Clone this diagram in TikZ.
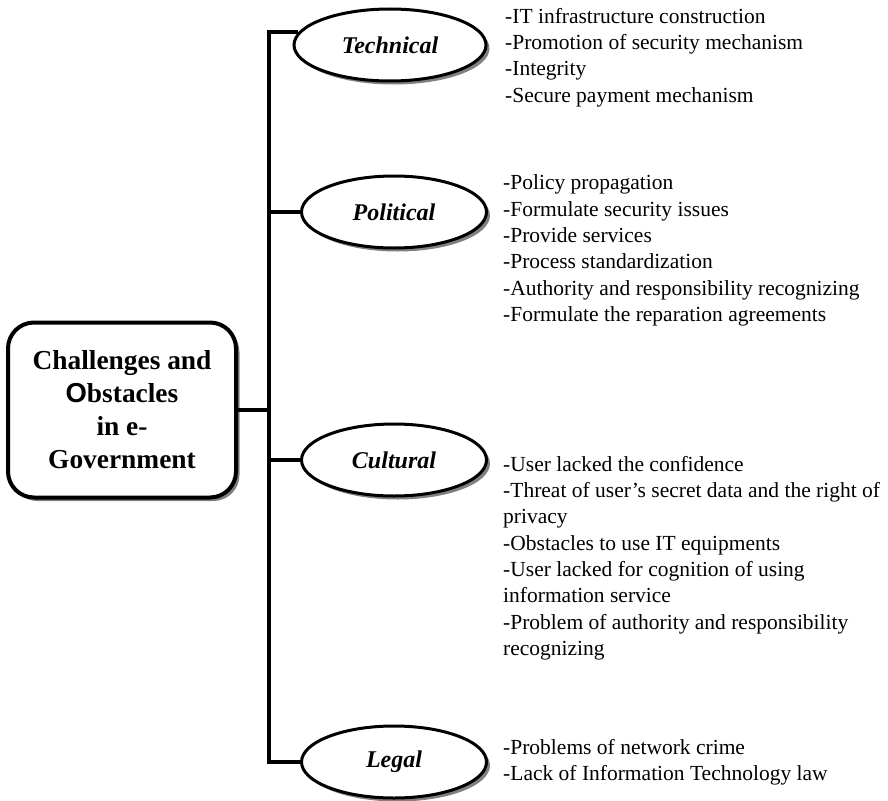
\documentclass[tikz,border=0pt]{standalone}
\usepackage{fontspec}
\setmainfont{Liberation Serif}
\newfontfamily\sansbf{Liberation Sans}
\usetikzlibrary{shapes.geometric,shadows}
\begin{document}
\begin{tikzpicture}[x=1pt,y=-1pt,
  shad/.style={drop shadow={shadow xshift=3.5pt,shadow yshift=-3.5pt,fill=black!50,opacity=1}},
  titlebox/.style={draw,line width=4pt,rounded corners=26pt,fill=white,shad,
    minimum width=228pt,minimum height=175pt,align=center,inner sep=0pt,
    font=\fontsize{27.4}{33}\selectfont\bfseries},
  cat/.style={ellipse,draw,line width=3pt,fill=white,shad,minimum width=185pt,
    minimum height=72pt,inner sep=0pt,font=\fontsize{24}{28}\selectfont\bfseries\itshape},
  items/.style={anchor=west,align=left,inner sep=0pt,font=\fontsize{21.5}{26.3}\selectfont},
  conn/.style={line width=3.5pt,line join=miter}]
\useasboundingbox (0,0) rectangle (888,800);

\node[titlebox] (main) at (122,410) {Challenges and\\{\sansbf O}bstacles\\in e-\\Government};

\node[cat,minimum width=192pt] (tech) at (390,45) {Technical};
\node[cat] (pol) at (394,212) {Political};
\node[cat] (cult) at (394,460) {Cultural};
\node[cat] (legal) at (394,762) {Legal};

\coordinate (vtop) at (269,32);

\draw[conn] (tech.172) -- (tech.172 -| vtop) -- (legal.west -| vtop) -- (legal.west);
\draw[conn] (pol.west -| vtop) -- (pol.west);
\draw[conn] (cult.west -| vtop) -- (cult.west);
\draw[conn] (main.east) -- (main.east -| vtop);

\node[items] (techL) at (505,57.5) {-IT infrastructure construction\\-Promotion of security mechanism\\-Integrity\\-Secure payment mechanism};
\node[items] (polL) at (503,250.5) {-Policy propagation\\-Formulate security issues\\-Provide services\\-Process standardization\\-Authority and responsibility recognizing\\-Formulate the reparation agreements};
\node[items] (cultL) at (503,558) {-User lacked the confidence\\-Threat of user's secret data and the right of\\privacy\\-Obstacles to use IT equipments\\-User lacked for cognition of using\\information service\\-Problem of authority and responsibility\\recognizing};
\node[items] (legalL) at (503,762) {-Problems of network crime\\-Lack of Information Technology law};
\end{tikzpicture}
\end{document}
